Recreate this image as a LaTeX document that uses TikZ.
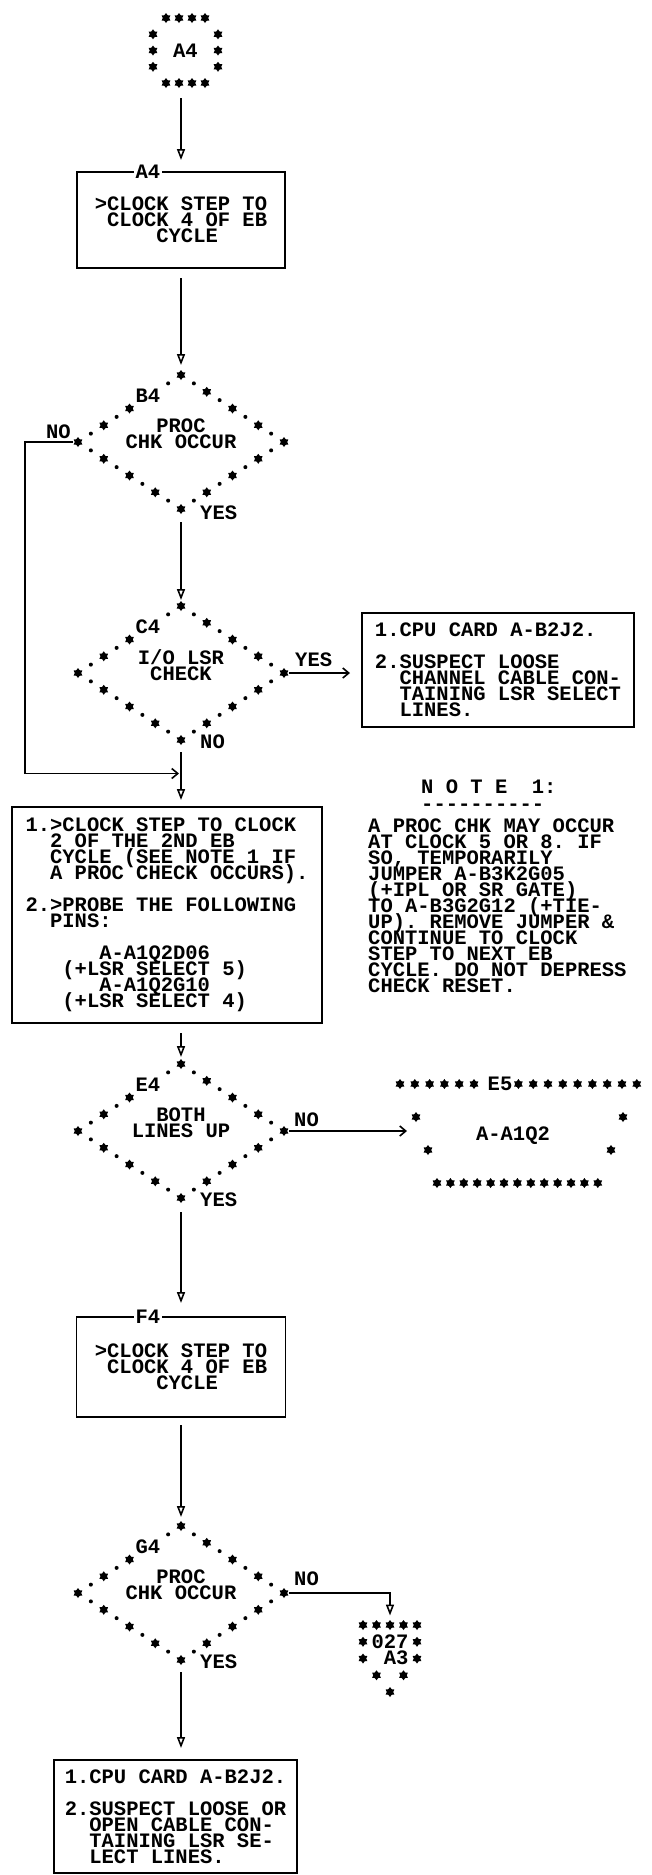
\documentclass[tikz,border=0pt]{standalone}
\usepackage{fontspec}
\setmonofont{Liberation Mono}
\usetikzlibrary{positioning, calc, arrows.meta, shapes.geometric}

% printer-like fixed pitch text
\newcommand{\mapfont}{\ttfamily\bfseries\fontsize{20.5}{16}\selectfont\frenchspacing\lineskiplimit=-1000pt\relax}
\newcommand{\chpad}[1]{\hspace*{\dimexpr#1em*6/10\relax}}

\begin{document}
\begin{tikzpicture}[x=1pt, y=-1pt,
    mapbox/.style = {draw, line width=1.8pt, font=\mapfont, align=left, inner sep=0pt, outer sep=0pt},
    decision/.style = {diamond, inner sep=0pt, outer sep=0pt, minimum width=206pt, minimum height=134pt},
    conn/.style = {rectangle, font=\mapfont, inner sep=0pt, outer sep=0pt},
    txt/.style = {font=\mapfont, inner sep=0pt},
    astar/.style = {star, star points=6, star point ratio=1.55, fill, inner sep=0pt, minimum size=10pt},
    adot/.style = {circle, fill, inner sep=0pt, minimum size=4pt},
    flowv/.style = {-{Triangle[open, width=8pt, length=11pt]}, line width=1.6pt},
    flowh/.style = {-{Straight Barb[width=10pt, length=6pt]}, line width=1.6pt}
    ]

    \fill[white] (0,0) rectangle (652,1875);
    \useasboundingbox (0,0) rectangle (652,1875);

    % --- Connettore di ingresso A4 ---
    \node[conn, minimum width=80pt, minimum height=78pt] (a4conn) at (185.5,50.5) {A4};
    \foreach \c in {1,...,4} {
        \node[astar] (a4top\c) at ($(a4conn.center)+({(\c-2.5)*13},-32.5)$) {};
        \node[astar] (a4bot\c) at ($(a4conn.center)+({(\c-2.5)*13},32.5)$) {};
    }
    \foreach \r in {-1,0,1} {
        \node[astar] (a4l\r) at ($(a4conn.center)+(-32.5,{\r*16.25})$) {};
        \node[astar] (a4r\r) at ($(a4conn.center)+(32.5,{\r*16.25})$) {};
    }

    % --- Blocchi ---
    \node[mapbox, minimum width=208pt, minimum height=96pt] (a4box) at (181,220)
        {>CLOCK STEP TO\\\chpad{1}CLOCK 4 OF EB\\\chpad{5}CYCLE};
    \node[txt, fill=white, inner xsep=2pt] (a4tag) at ([xshift=-33pt]a4box.north) {A4};

    \node[decision] (b4) at (181,442) {};
    \node[decision] (c4) at (181,673) {};
    \node[decision] (e4) at (181,1131) {};
    \node[decision] (g4) at (181,1593) {};

    \node[txt, align=center] (b4txt) at ([yshift=8pt]b4.center) {PROC\\CHK OCCUR};
    \node[txt, align=center] (c4txt) at ([yshift=8pt]c4.center) {I/O LSR\\CHECK};
    \node[txt, align=center] (e4txt) at ([yshift=8pt]e4.center) {BOTH\\LINES UP};
    \node[txt, align=center] (g4txt) at ([yshift=8pt]g4.center) {PROC\\CHK OCCUR};

    \node[mapbox, minimum width=272pt, minimum height=114pt] (c5box) at (498,670)
        {1.CPU CARD A-B2J2.\\[16pt]2.SUSPECT LOOSE\\\chpad{2}CHANNEL CABLE CON-\\\chpad{2}TAINING LSR SELECT\\\chpad{2}LINES.};

    \node[mapbox, minimum width=310pt, minimum height=216pt] (d4box) at (167,915)
        {1.>CLOCK STEP TO CLOCK\\\chpad{2}2 OF THE 2ND EB\\\chpad{2}CYCLE (SEE NOTE 1 IF\\\chpad{2}A PROC CHECK OCCURS).\\[16pt]%
         2.>PROBE THE FOLLOWING\\\chpad{2}PINS:\\[16pt]%
         \chpad{6}A-A1Q2D06\\\chpad{3}(+LSR SELECT 5)\\\chpad{6}A-A1Q2G10\\\chpad{3}(+LSR SELECT 4)};

    % --- Nota 1 ---
    \node[txt, anchor=west] (notehd) at (421,787) {N O T E~~1:};
    \node[txt, anchor=west] (noteul) at (421,807) {----------};
    \node[txt, align=left, anchor=west] (notebody) at (368,906)
        {A PROC CHK MAY OCCUR\\AT CLOCK 5 OR 8. IF\\SO, TEMPORARILY\\JUMPER A-B3K2G05\\(+IPL OR SR GATE)\\TO A-B3G2G12 (+TIE-\\UP). REMOVE JUMPER \&\\CONTINUE TO CLOCK\\STEP TO NEXT EB\\CYCLE. DO NOT DEPRESS\\CHECK RESET.};

    % --- Connettore E5 ---
    \node[conn, minimum width=230pt, minimum height=112pt] (e5conn) at (522,1134) {};
    \foreach \c in {0,...,5} {\node[astar] (e5a\c) at ({400+14.8*\c},1084) {};}
    \foreach \c in {8,...,16} {\node[astar] (e5b\c) at ({400+14.8*\c},1084) {};}
    \foreach \i in {0,...,12} {\node[astar] (e5c\i) at ({437+13.4*\i},1183) {};}
    \foreach \x/\y [count=\n] in {416/1117, 623/1117, 428/1150, 611/1150} {\node[astar] (e5s\n) at (\x,\y) {};}
    \node[txt] (e5lbl) at (500,1084) {E5};
    \node[txt] (e5txt) at (513,1136) {A-A1Q2};

    \node[mapbox, minimum width=209pt, minimum height=100pt] (f4box) at (181,1367)
        {>CLOCK STEP TO\\\chpad{1}CLOCK 4 OF EB\\\chpad{5}CYCLE};
    \node[txt, fill=white, inner xsep=2pt] (f4tag) at ([xshift=-33pt]f4box.north) {F4};

    % --- Connettore di uscita 027 A3 ---
    \node[conn, minimum width=70pt, minimum height=80pt] (a3conn) at (390,1658.5) {};
    \foreach \c/\r in {-2/-2,-1/-2,0/-2,1/-2,2/-2,-2/-1,2/-1,-2/0,2/0,-1/1,1/1,0/2} {
        \node[astar] (a3s\c\r) at ($(a3conn.center)+({\c*13.5},{\r*16.75})$) {};
    }
    \node[txt, align=left] (a3txt) at ($(a3conn.center)+(0,-8.4)$) {027\\\chpad{1}A3};

    \node[mapbox, minimum width=243pt, minimum height=113pt] (h4box) at (175.5,1816.5)
        {1.CPU CARD A-B2J2.\\[16pt]2.SUSPECT LOOSE OR\\\chpad{2}OPEN CABLE CON-\\\chpad{2}TAINING LSR SE-\\\chpad{2}LECT LINES.};

    % --- Contorni a stelle e punti dei rombi ---
    \foreach \d in {b4,c4,e4,g4} {
        \foreach \a/\b [count=\e] in {north/east,east/south,south/west,west/north} {
            \foreach \k in {0,...,7} {
                \pgfmathtruncatemacro{\hide}{(\e==4)&&((\k==5)||(\k==6))}
                \ifnum\hide=0
                    \ifodd\k
                        \node[adot] (\d-d\e-\k) at ($(\d.\a)!\k/8!(\d.\b)$) {};
                    \else
                        \node[astar] (\d-s\e-\k) at ($(\d.\a)!\k/8!(\d.\b)$) {};
                    \fi
                \fi
            }
        }
    }
    \foreach \d/\n in {b4/B4,c4/C4,e4/E4,g4/G4} {
        \node[txt] (\d-lbl) at ([shift={(-33,-46)}]\d.center) {\n};
    }

    % --- Etichette SI/NO ---
    \node[txt, anchor=east] (b4no) at ([shift={(-7,-10)}]b4.west) {NO};
    \node[txt, anchor=west] (b4yes) at ([shift={(19,4)}]b4.south) {YES};
    \node[txt, anchor=west] (c4yes) at ([shift={(11,-13)}]c4.east) {YES};
    \node[txt, anchor=west] (c4no) at ([shift={(19,2)}]c4.south) {NO};
    \node[txt, anchor=west] (e4no) at ([shift={(10,-11)}]e4.east) {NO};
    \node[txt, anchor=west] (e4yes) at ([shift={(19,2)}]e4.south) {YES};
    \node[txt, anchor=west] (g4no) at ([shift={(10,-14)}]g4.east) {NO};
    \node[txt, anchor=west] (g4yes) at ([shift={(19,2)}]g4.south) {YES};

    % --- Frecce ---
    \coordinate (merge) at ($(c4.south)!0.5!(c4.south |- d4box.north)$);
    \draw[flowv, shorten <=8.5pt, shorten >=12pt] (a4conn.south -| a4box.north) -- (a4box.north);
    \draw[flowv, shorten <=10pt, shorten >=10pt] (a4box.south) -- (b4.north);
    \draw[flowv, shorten <=13pt, shorten >=6pt] (b4.south) -- (c4.north);
    \draw[flowh, shorten <=5pt, shorten >=2pt] (b4.west) -- ++(-53,0) |- (merge);
    \draw[flowv, shorten <=12pt, shorten >=7pt] (c4.south) -- (c4.south |- d4box.north);
    \draw[flowh, shorten <=5pt, shorten >=12pt] (c4.east) -- (c4.east -| c5box.west);
    \draw[flowv, shorten <=10pt, shorten >=7pt] (d4box.south -| e4.north) -- (e4.north);
    \draw[flowh, shorten <=5pt] (e4.east) -- (e4.east -| e5conn.west);
    \draw[flowv, shorten <=14pt, shorten >=14pt] (e4.south) -- (f4box.north);
    \draw[flowv, shorten <=8pt, shorten >=9pt] (f4box.south) -- (g4.north);
    \draw[flowv, shorten <=5pt, shorten >=3pt] (g4.east) -| (a3conn.north);
    \draw[flowv, shorten <=12pt, shorten >=12pt] (g4.south) -- (g4.south |- h4box.north);

\end{tikzpicture}
\end{document}
